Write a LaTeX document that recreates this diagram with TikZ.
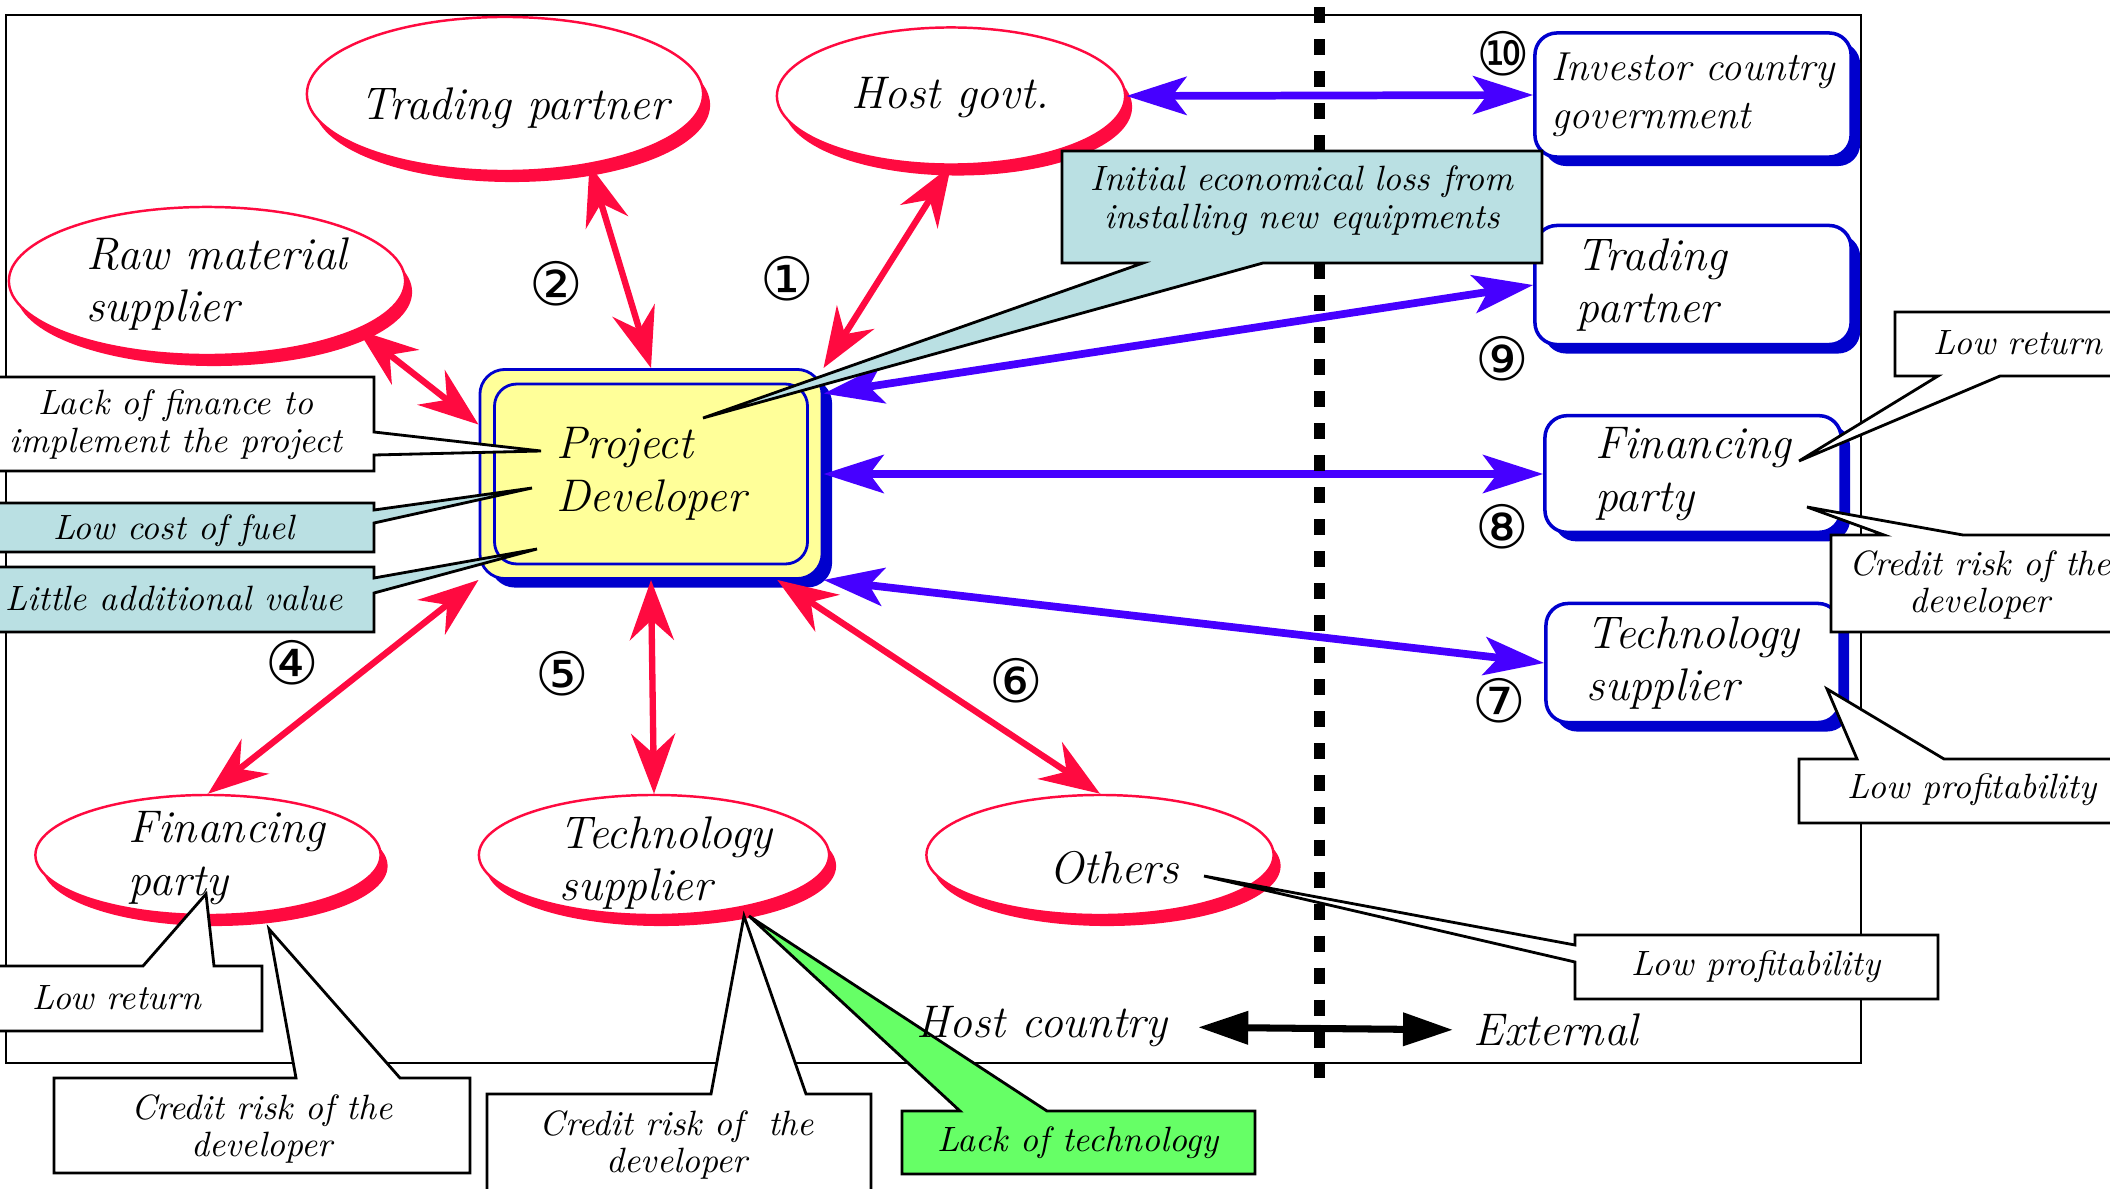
\documentclass[tikz,border=0pt]{standalone}
\usepackage{fontspec}
\usetikzlibrary{shapes.geometric,arrows.meta,shadows}
\newfontfamily\circfont{DejaVu Sans}
\definecolor{pdred}{RGB}{255,10,64}
\definecolor{linkblue}{RGB}{70,0,255}
\definecolor{boxblue}{RGB}{0,0,205}
\definecolor{noteblue}{RGB}{186,224,227}
\definecolor{notegreen}{RGB}{102,255,102}
\definecolor{pdyellow}{RGB}{255,255,153}
\newcommand\partfont{\fontsize{13}{15}\selectfont\itshape}
\newcommand\invfont{\fontsize{11.5}{13.5}\selectfont\itshape}
\newcommand\notefont{\fontsize{10}{10.8}\selectfont\itshape}

\tikzset{
  redtip/.tip={Stealth[length=0.6cm,width=0.44cm,inset=0.2cm]},
  bluetip/.tip={Stealth[length=0.6cm,width=0.38cm,inset=0.14cm]},
  blacktip/.tip={Triangle[length=0.5cm,width=0.32cm]},
  redpart/.style={ellipse, draw=pdred, line width=0.7pt, fill=white,
    drop shadow={fill=pdred, opacity=1, shadow xshift=0.07cm, shadow yshift=-0.11cm}},
  bluepart/.style={rectangle, rounded corners=0.22cm, draw=boxblue, line width=1pt, fill=white,
    font=\partfont, align=left,
    drop shadow={fill=boxblue, opacity=1, shadow xshift=0.09cm, shadow yshift=-0.09cm}},
  parttext/.style={font=\partfont, align=left, inner sep=0pt},
  redlink/.style={draw=pdred, line width=1.8pt, redtip-redtip},
  bluelink/.style={draw=linkblue, line width=2.2pt, bluetip-bluetip},
  note/.style={draw=black, line width=0.8pt},
  notetext/.style={font=\notefont, align=center, inner sep=0pt},
  num/.style={font=\circfont\fontsize{17}{17}\selectfont, inner sep=0pt}
}

\begin{document}
\begin{tikzpicture}[x=0.01cm, y=-0.01cm]
    \useasboundingbox (0,0) rectangle (2110,1188);
    \draw[line width=0.7pt] (6,15) rectangle (1861,1063);

    % parties in the host country
    \node[redpart, minimum width=3.96cm, minimum height=1.54cm] (tp) at (505,94) {};
    \node[redpart, minimum width=3.48cm, minimum height=1.37cm] (host) at (951,96) {};
    \node[redpart, minimum width=3.96cm, minimum height=1.48cm] (raw) at (207,281) {};
    \node[redpart, minimum width=3.45cm, minimum height=1.2cm] (fin) at (208,855) {};
    \node[redpart, minimum width=3.5cm, minimum height=1.2cm] (tech) at (654,855) {};
    \node[redpart, minimum width=3.47cm, minimum height=1.2cm] (oth) at (1100,855) {};
    \node[parttext] (tptext) at (515,108) {Trading partner};
    \node[parttext] (hosttext) at (950,98) {Host govt.};
    \node[parttext] (rawtext) at (217,284) {Raw material\\supplier};
    \node[parttext] (fintext) at (227,858) {Financing\\party};
    \node[parttext] (techtext) at (666,863) {Technology\\supplier};
    \node[parttext] (othtext) at (1114,868) {Others};

    % project developer
    \node[rectangle, rounded corners=0.25cm, draw=boxblue, line width=0.8pt, fill=pdyellow,
      minimum width=3.42cm, minimum height=2.09cm, font=\partfont, align=left,
      drop shadow={fill=boxblue, opacity=1, shadow xshift=0.1cm, shadow yshift=-0.09cm}]
      (pd) at (651,474) {Project\\Developer};
    \draw[boxblue, line width=0.8pt, rounded corners=0.22cm]
      ([xshift=0.16cm,yshift=-0.16cm]pd.north west) rectangle ([xshift=-0.16cm,yshift=0.16cm]pd.south east);

    % external parties
    \node[bluepart, minimum width=3.16cm, minimum height=1.24cm, font=\invfont] (inv) at (1693,95) {Investor country\\government};
    \node[bluepart, minimum width=3.16cm, minimum height=1.19cm, text width=2.32cm] (tradebox) at (1693,285) {Trading\\partner};
    \node[bluepart, minimum width=2.96cm, minimum height=1.08cm] (finbox) at (1693,474) {Financing\\party};
    \node[bluepart, minimum width=2.94cm, minimum height=1.19cm] (techbox) at (1693,663) {Technology\\supplier};

    % links
    \draw[redlink] (pd.north east) -- (host.south);
    \draw[redlink] (pd.north) -- (tp.-40);
    \draw[redlink] (pd.164) -- (raw.-18);
    \draw[redlink] (pd.south west) -- (fin.north);
    \draw[redlink] (pd.south) -- (tech.north);
    \draw[redlink] (pd.-40) -- (oth.north);
    \draw[bluelink] (host.east) -- (inv.west);
    \draw[bluelink] (pd.25) -- (tradebox.west);
    \draw[bluelink] (pd.east) -- (finbox.west);
    \draw[bluelink] (pd.south east) -- (techbox.west);

    \node[num] (n1) at (787,279) {①};
    \node[num] (n2) at (556,284) {②};
    \node[num] (n4) at (292,663) {④};
    \node[num] (n5) at (562,674) {⑤};
    \node[num] (n6) at (1016,681) {⑥};
    \node[num] (n7) at (1499,701) {⑦};
    \node[num] (n8) at (1502,527) {⑧};
    \node[num] (n9) at (1502,359) {⑨};
    \node[num] (n10) at (1503,54) {⑩};

    % border between host country and outside
    \draw[line width=0.11cm, dash pattern=on 0.16cm off 0.16cm] (1319,7) -- (1319,1078);

    % callouts
    \draw[note, fill=white] (-10,377) -- (374,377) -- (374,432) -- (541,451) -- (374,455) -- (374,471) -- (-10,471) -- cycle;
    \draw[note, fill=noteblue] (-10,503) -- (374,503) -- (374,510) -- (532,488) -- (374,523) -- (374,552) -- (-10,552) -- cycle;
    \draw[note, fill=noteblue] (-10,567) -- (374,567) -- (374,578) -- (537,549) -- (374,593) -- (374,632) -- (-10,632) -- cycle;
    \draw[note, fill=noteblue] (1062,151) -- (1542,151) -- (1542,263) -- (1263,263) -- (703,418) -- (1143,263) -- (1062,263) -- cycle;
    \draw[note, fill=white] (-10,966) -- (143,966) -- (206,894) -- (214,966) -- (262,966) -- (262,1031) -- (-10,1031) -- cycle;
    \draw[note, fill=white] (54,1078) -- (296,1078) -- (269,929) -- (400,1078) -- (470,1078) -- (470,1173) -- (54,1173) -- cycle;
    \draw[note, fill=white] (487,1094) -- (711,1094) -- (744,916) -- (806,1094) -- (871,1094) -- (871,1200) -- (487,1200) -- cycle;
    \draw[note, fill=notegreen] (902,1111) -- (960,1111) -- (749,916) -- (1047,1111) -- (1255,1111) -- (1255,1174) -- (902,1174) -- cycle;
    \draw[note, fill=white] (1575,935) -- (1938,935) -- (1938,999) -- (1575,999) -- (1575,962) -- (1204,876) -- (1575,945) -- cycle;
    \draw[note, fill=white] (1799,759) -- (1857,759) -- (1827,689) -- (1944,759) -- (2130,759) -- (2130,823) -- (1799,823) -- cycle;
    \draw[note, fill=white] (1895,312) -- (2130,312) -- (2130,376) -- (2000,376) -- (1799,461) -- (1938,376) -- (1895,376) -- cycle;
    \draw[note, fill=white] (1831,535) -- (1884,535) -- (1807,507) -- (1963,535) -- (2130,535) -- (2130,632) -- (1831,632) -- cycle;

    \node[notetext] (lackfin) at (176,425) {Lack of finance to\\implement the project};
    \node[notetext] (fuel) at (174,531) {Low cost of fuel};
    \node[notetext] (value) at (174,598) {Little additional value};
    \node[notetext] (loss) at (1302,201) {Initial economical loss from\\installing new equipments};
    \node[notetext] (finret) at (117,998) {Low return};
    \node[notetext] (fincredit) at (262,1129) {Credit risk of the\\developer};
    \node[notetext] (techcredit) at (677,1145) {Credit risk of~ the\\developer};
    \node[notetext] (techlack) at (1078,1143) {Lack of technology};
    \node[notetext] (othprofit) at (1756,967) {Low profitability};
    \node[notetext] (techprofit) at (1972,790) {Low profitability};
    \node[notetext] (extret) at (2018,343) {Low return};
    \node[notetext] (extcredit) at (1980,585) {Credit risk of the\\developer};

    % host country / external
    \node[parttext] (hc) at (1042,1027) {Host country};
    \node[parttext] (ext) at (1556,1030) {External};
    \draw[line width=2pt, blacktip-blacktip, shorten <=0.3cm, shorten >=0.2cm] (hc.east) -- (ext.west);
\end{tikzpicture}
\end{document}
